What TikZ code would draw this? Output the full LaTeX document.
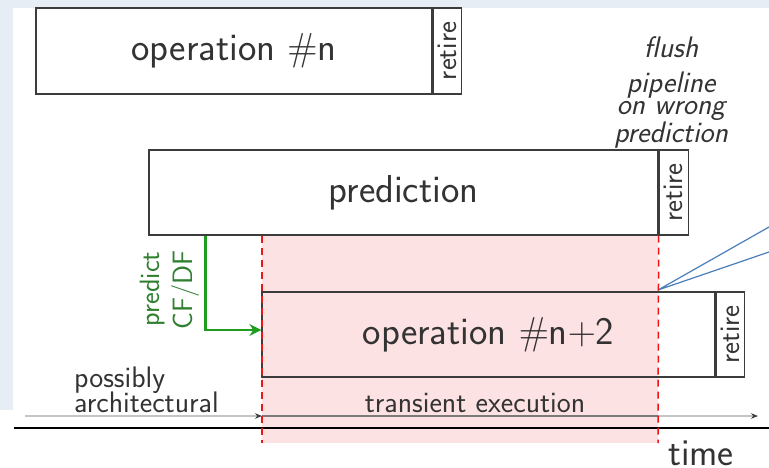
\documentclass[tikz,border=0pt]{standalone}
\usepackage{fix-cm}
\usetikzlibrary{arrows.meta}
\definecolor{slidebg}{HTML}{E6EDF5}
\definecolor{boxline}{HTML}{3C3C3C}
\definecolor{txt}{HTML}{333333}
\definecolor{pinkfill}{HTML}{FDE2E4}
\definecolor{flushred}{HTML}{F01414}
\definecolor{predgreen}{HTML}{1E9E1E}
\definecolor{predtext}{HTML}{2F7F2F}
\definecolor{calloutblue}{HTML}{4A7EBB}
\definecolor{archgray}{HTML}{C4C4C4}
\definecolor{transgray}{HTML}{7A7A7A}
\newcommand\labelsize{\fontsize{29.7}{32}\selectfont}
\newcommand\tightsize{\fontsize{29.7}{25}\selectfont\lineskiplimit=-50pt\lineskip=0pt}
\newcommand\retiresize{\fontsize{28.5}{31}\selectfont}
\newcommand\greensize{\fontsize{28}{31}\selectfont}
\newcommand\opsize{\fontsize{39}{43}\selectfont}
\newcommand\timesize{\fontsize{38}{41}\selectfont}
\begin{document}
\begin{tikzpicture}[x=1pt,y=-1pt,
  opbox/.style={draw=boxline, line width=1.3pt, inner sep=0pt, text=txt, font=\sffamily\opsize},
  retirebox/.style={draw=boxline, line width=1.3pt, inner sep=0pt, rotate=90, anchor=north,
    minimum width=85pt, minimum height=28pt, text=txt, font=\sffamily\retiresize},
  lbl/.style={inner sep=0pt, text=txt, font=\sffamily\labelsize},
  predlbl/.style={inner sep=0pt, text=predtext, font=\sffamily\greensize, rotate=90, anchor=base},
  flushline/.style={draw=flushred, line width=1.5pt, dash pattern=on 7pt off 5pt},
  tip/.style={-{Stealth[length=7pt,width=5.5pt,color=boxline]}},
]
\useasboundingbox (0,0) rectangle (769,467);
% slide background
\fill[white] (0,0) rectangle (769,467);
\fill[slidebg] (0,0) rectangle (769,8);
\fill[slidebg] (0,8) rectangle (13,410);

% operation boxes
\node[opbox, minimum width=396pt, minimum height=86pt] (opn) at (234,51) {operation $\#$n};
\node[retirebox, minimum width=86pt] (opnr) at (opn.east) {retire};

\node[opbox, minimum width=509pt, minimum height=85pt] (pred) at (403.5,192.5) {prediction};
\node[retirebox, minimum height=29pt] (predr) at (pred.east) {retire};

\coordinate (tL) at (262,443);
\coordinate (tR) at (658,443);
% transient window
\fill[pinkfill] (tL |- pred.south) rectangle (tR);

\node[opbox, minimum width=453pt, minimum height=85pt] (op2) at (488.5,334.5) {operation $\#$n$+$2};
\node[retirebox] (op2r) at (op2.east) {retire};

% flush annotation
\node[inner sep=0pt, text=txt, font=\sffamily\itshape\tightsize, align=center, anchor=north]
  (flush) at (671,36.5) {flush\\[10pt]pipeline\\[-3pt]on wrong\\[3pt]prediction};

% callout pointer
\coordinate (cA) at (769,227);
\coordinate (cB) at (769,252);
\coordinate (cTip) at (658,290);
\draw[calloutblue, line width=1.2pt, fill=white] (cA) -- (cTip) -- (cB);

% prediction arrow
\draw[predgreen, line width=2.8pt, -{Stealth[length=12pt,width=12pt]}]
  ([xshift=57pt]pred.south west) |- ([yshift=4.5pt]op2.west);
\node[predlbl] (predict) at (159,289) {predict};
\node[predlbl] (cfdf) at (192,290) {CF/DF};

% time axis
\coordinate (axL) at (14,428);
\coordinate (axR) at (769,428);
\draw[black, line width=2.6pt] (axL) -- (axR);
\coordinate (archL) at (25,416);
\coordinate (transL) at (262,416);
\coordinate (transR) at (658,416);
\coordinate (timeR) at (758,416);
\draw[archgray, line width=1.6pt, tip] (archL) -- (transL);
\draw[archgray, line width=1.6pt, tip] (transL) -- (timeR);
\draw[transgray, line width=1.6pt] (transL) -- (transR);

% flush boundaries
\draw[flushline] (tL |- pred.south) -- (tL);
\draw[flushline] (pred.south east) -- (tR);

\node[inner sep=0pt, text=txt, font=\sffamily\tightsize, align=left, anchor=north west]
  (arch) at (74,366.4) {possibly\\architectural};
\node[lbl, anchor=base] (trans) at (475,412) {transient execution};
\node[inner sep=0pt, text=txt, font=\sffamily\timesize, anchor=base] (time) at (701,465) {time};
\end{tikzpicture}
\end{document}
